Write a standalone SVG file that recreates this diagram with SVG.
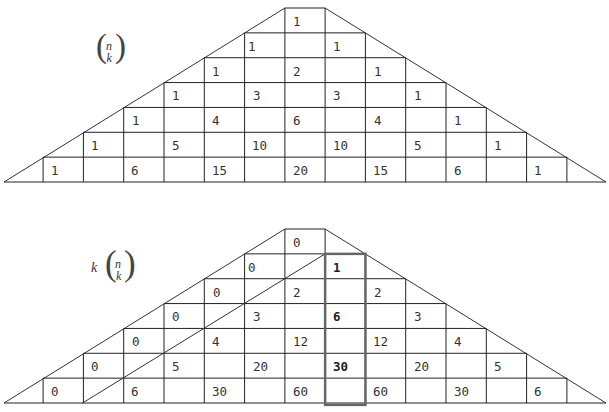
<svg xmlns="http://www.w3.org/2000/svg" width="609" height="412" viewBox="0 0 609 412">
<style>
.ln{stroke:#222;stroke-width:1;fill:none}
.sl{stroke:#333;stroke-width:1;fill:none}
.num{font-family:"DejaVu Sans Mono",monospace;font-size:12.5px;fill:#333}
.b{font-weight:bold;fill:#222}
.it{font-family:"Liberation Serif",serif;font-style:italic;fill:#333}
.par{font-family:"Liberation Serif",serif;fill:#444}
.hl{stroke:#666;stroke-width:2.5;fill:none}
</style>
<defs>
<g id="grid">
<path class="sl" d="M284.9,0 L4,174 M325.1,0 L606,174"/>
<path class="ln" d="M284.9,0H325.1 M244.6,24.86H365.4 M204.3,49.71H405.7 M164,74.57H446 M123.7,99.43H486.3 M83.4,124.29H526.6 M43.1,149.14H566.9 M4,174H606"/>
<path class="ln" d="M284.9,0V174 M325.1,0V174 M244.6,24.86V174 M365.4,24.86V174 M204.3,49.71V174 M405.7,49.71V174 M164,74.57V174 M446,74.57V174 M123.7,99.43V174 M486.3,99.43V174 M83.4,124.29V174 M526.6,124.29V174 M43.1,149.14V174 M566.9,149.14V174"/>
</g>
</defs>

<g id="top-triangle">
<use href="#grid" transform="translate(0,8)"/>
<g id="top-label">
<text class="par" x="96" y="57" font-size="33">(</text>
<text class="par" x="115" y="57" font-size="33">)</text>
<text class="it" x="106" y="50" font-size="12">n</text>
<text class="it" x="106.5" y="62" font-size="12">k</text>
</g>
<g id="top-numbers" class="num">
<text x="293" y="26">1</text>
<text x="248" y="51">1</text><text x="333" y="51">1</text>
<text x="212" y="76">1</text><text x="293" y="76">2</text><text x="374" y="76">1</text>
<text x="172" y="100">1</text><text x="253" y="100">3</text><text x="333" y="100">3</text><text x="414" y="100">1</text>
<text x="132" y="125">1</text><text x="212" y="125">4</text><text x="293" y="125">6</text><text x="374" y="125">4</text><text x="454" y="125">1</text>
<text x="91" y="150">1</text><text x="172" y="150">5</text><text x="252" y="150">10</text><text x="333" y="150">10</text><text x="414" y="150">5</text><text x="494" y="150">1</text>
<text x="51" y="175">1</text><text x="131" y="175">6</text><text x="212" y="175">15</text><text x="293" y="175">20</text><text x="373" y="175">15</text><text x="454" y="175">6</text><text x="534" y="175">1</text>
</g>
</g>

<g id="bottom-triangle">
<use href="#grid" transform="translate(0,229)"/>
<g id="connectors">
<path class="sl" d="M325.15,253.86 L82.5,403"/>
</g>
<rect id="highlight" class="hl" x="325.15" y="253.86" width="40.3" height="151"/>
<g id="bottom-label">
<text class="it" x="91" y="272" font-size="14">k</text>
<text class="par" x="105" y="275" font-size="35">(</text>
<text class="par" x="124" y="275" font-size="35">)</text>
<text class="it" x="115" y="268" font-size="12">n</text>
<text class="it" x="116" y="280" font-size="12">k</text>
</g>
<g id="bottom-numbers" class="num">
<text x="293" y="247">0</text>
<text x="248" y="272">0</text><text x="333" y="272" class="b">1</text>
<text x="213" y="297">0</text><text x="293" y="297">2</text><text x="374" y="297">2</text>
<text x="172" y="321">0</text><text x="253" y="321">3</text><text x="333" y="321" class="b">6</text><text x="414" y="321">3</text>
<text x="132" y="346">0</text><text x="212" y="346">4</text><text x="293" y="346">12</text><text x="373" y="346">12</text><text x="454" y="346">4</text>
<text x="91" y="371">0</text><text x="172" y="371">5</text><text x="253" y="371">20</text><text x="333" y="371" class="b">30</text><text x="414" y="371">20</text><text x="494" y="371">5</text>
<text x="51" y="396">0</text><text x="131" y="396">6</text><text x="212" y="396">30</text><text x="293" y="396">60</text><text x="373" y="396">60</text><text x="454" y="396">30</text><text x="534" y="396">6</text>
</g>
</g>
</svg>
